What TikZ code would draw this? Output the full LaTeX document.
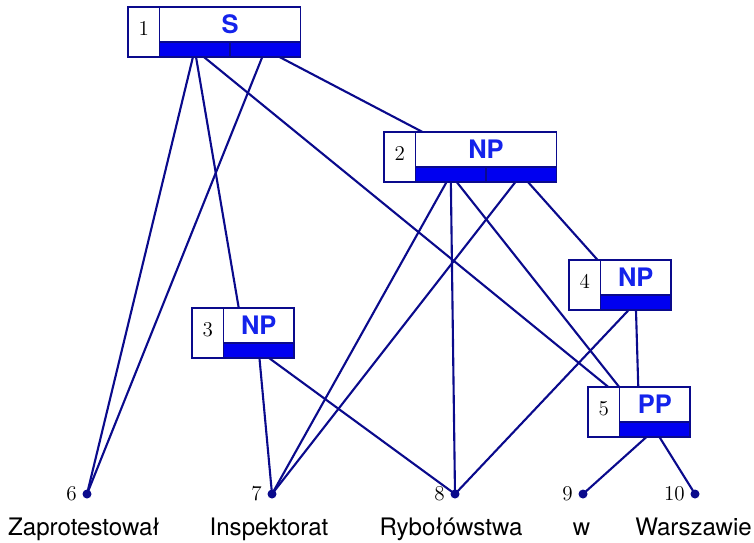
\documentclass[tikz,border=0pt]{standalone}
\usepackage{fontspec}
\newfontfamily\heros{TeX Gyre Heros}
\usetikzlibrary{fit,backgrounds}
\definecolor{edgeblue}{RGB}{10,10,140}
\definecolor{barblue}{RGB}{0,0,240}
\definecolor{catblue}{RGB}{20,35,235}
\tikzset{
	edge/.style={line width=1.2pt, color=edgeblue},
	cell/.style={draw=edgeblue, line width=0.6pt, fill=white, inner sep=0pt, outer sep=0pt},
	numcell/.style={cell, minimum width=0.63cm, minimum height=1cm, text depth=0.14cm, font=\fontsize{12}{14}\selectfont},
	catcell/.style={cell, minimum height=0.7cm, text=catblue, font=\heros\bfseries\fontsize{14.5}{16}\selectfont},
	barcell/.style={cell, fill=barblue, minimum width=1.41cm, minimum height=0.3cm},
	leaf/.style={circle, fill=edgeblue, inner sep=0pt, minimum size=0.18cm},
	num/.style={font=\fontsize{12}{14}\selectfont, inner sep=0.1cm},
	word/.style={anchor=base, font=\heros\fontsize{13.7}{16}\selectfont}
}
\def\phrasebox(#1)(#2)#3#4#5{%
	\node[numcell, anchor=north west] (#1-n) at (#2) {#3};
	\node[catcell, anchor=north west, minimum width=#5*1.41cm] (#1-c) at (#1-n.north east) {#4};
	\foreach \k in {1,...,#5}
		\node[barcell, anchor=north west, xshift=(\k-1)*1.41cm] (#1-\k) at (#1-c.south west) {};
	\node[fit=(#1-n)(#1-c)(#1-#5), inner sep=0pt] (#1) {};
}

\begin{document}
\begin{tikzpicture}
			%%%%% START %%%%%
			\useasboundingbox (0, 0) rectangle (15.08, -10.84);
			
			\phrasebox(s1)(2.56, -0.14){1}{S}{2}
			\phrasebox(np2)(7.68, -2.64){2}{NP}{2}
			\phrasebox(np3)(3.84, -6.16){3}{NP}{1}
			\phrasebox(np4)(11.38, -5.20){4}{NP}{1}
			\phrasebox(pp5)(11.76, -7.74){5}{PP}{1}
			
			\node[leaf, label={[num]left:6}] (w6) at (1.74, -9.88) {};
			\node[leaf, label={[num]left:7}] (w7) at (5.44, -9.88) {};
			\node[leaf, label={[num]left:8}] (w8) at (9.10, -9.88) {};
			\node[leaf, label={[num]left:9}] (w9) at (11.66, -9.88) {};
			\node[leaf, label={[num]left:10}] (w10) at (13.90, -9.88) {};
			
			\node[word] (t6) at (1.68, -10.70) {Zaprotestował};
			\node[word] (t7) at (5.38, -10.70) {Inspektorat};
			\node[word] (t8) at (9.02, -10.70) {Rybołówstwa};
			\node[word] (t9) at (11.63, -10.70) {w};
			\node[word] (t10) at (13.87, -10.70) {Warszawie};
			
			\begin{scope}[on background layer]
			\draw[edge] (s1-1.center) -- (w6.center);
			\draw[edge] (s1-2.center) -- (w6.center);
			\draw[edge] (s1-1.center) -- (np3.center);
			\draw[edge] (s1-1.center) -- (pp5.center);
			\draw[edge] (s1-2.center) -- (np2.center);
			
			\draw[edge] (np2-1.center) -- (w7.center);
			\draw[edge] (np2-2.center) -- (w7.center);
			\draw[edge] (np2-1.center) -- (w8.center);
			\draw[edge] (np2-1.center) -- (pp5.center);
			\draw[edge] (np2-2.center) -- (np4.center);
			
			\draw[edge] (np3-1.center) -- (w7.center);
			\draw[edge] (np3-1.center) -- (w8.center);
			
			\draw[edge] (np4-1.center) -- (w8.center);
			\draw[edge] (np4-1.center) -- (pp5.center);
			
			\draw[edge] (pp5-1.center) -- (w9.center);
			\draw[edge] (pp5-1.center) -- (w10.center);
			\end{scope}
			%%%%% END %%%%%
\end{tikzpicture}
\end{document}
